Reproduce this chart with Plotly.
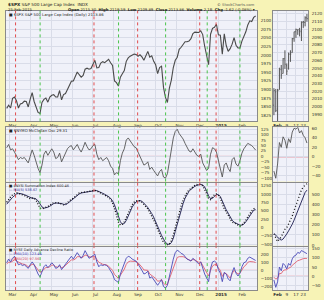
import plotly.graph_objects as go
import pandas as pd

# ---------------- data ----------------
spx_close = [1845, 1854,
             1846, 1874, 1878, 1867, 1846, 1858, 1860, 1866, 1865, 1849, 1872,
             1891, 1865, 1851, 1833, 1830, 1862, 1871, 1875, 1863, 1878,
             1883, 1885, 1878, 1878, 1897, 1870, 1885, 1888, 1900, 1910, 1924,
             1925, 1941, 1951, 1943, 1936, 1941, 1959, 1962, 1959, 1961,
             1973, 1985, 1963, 1964, 1977, 1981, 1978, 1983, 1988, 1978, 1970,
             1925, 1920, 1910, 1936, 1946, 1955, 1982, 1992, 1997, 2000, 2003,
             2002, 1997, 2001, 1995, 1985, 1998, 2011, 1994, 1998, 1982,
             1972, 1946, 1964, 1968, 1906, 1877, 1862, 1904, 1927, 1964, 1985, 1994,
             2017, 2023, 2031, 2039, 2039, 2041, 2048, 2063, 2067, 2067,
             2066, 2071, 2060, 2026, 2002, 1972, 2061, 2078, 2081, 2090, 2059,
             2058, 2003, 2062, 2028, 2011, 2019, 2032, 2051, 2029, 2021,
             2021, 2041, 2055, 2068, 2088, 2100, 2098, 2110, 2114]

nymo = [40, 55,
        30, 35, 20, 0, -15, -5, -10, -5, -20, -30, 0,
        30, 5, -30, -55, -75, -40, 10, 25, 5, 20,
        35, 20, -10, -5, 15, -25, -5, 15, 35, 45, 50,
        30, 45, 55, 35, 20, 40, 65, 45, 30, 35,
        50, 55, 10, -15, -5, -20, -10, -5, -20, -45, -55,
        -85, -75, -80, -20, 15, 35, 75, 85, 70, 55, 45,
        40, 20, 5, -20, -40, -35, -25, -60, -50, -65,
        -75, -90, -70, -60, -95, -100, -80, -20, 40, 85, 115, 125,
        105, 95, 80, 60, 40, 25, 20, 35, 20, 5,
        0, 10, -30, -50, -65, -55, 10, 40, 35, 20, -20,
        -45, -95, -40, -30, -55, -70, -15, -5, -35, -45,
        -20, 15, 35, 45, 60, 55, 50, 40, 29]

nysi = [760, 850,
        920, 980, 1030, 1050, 1030, 1010, 990, 970, 940, 890, 870,
        890, 880, 820, 720, 590, 560, 580, 620, 630, 660,
        720, 750, 740, 730, 740, 700, 680, 700, 760, 800, 850,
        880, 930, 1000, 1040, 1050, 1060, 1090, 1100, 1100, 1100,
        1110, 1120, 1100, 1070, 1040, 1010, 980, 950, 910, 840, 740,
        580, 400, 160, 70, 100, 170, 300, 450, 580, 680, 760,
        800, 810, 800, 760, 690, 610, 560, 450, 350, 240,
        110, -60, -200, -310, -450, -480, -520, -500, -400, -230, 10, 250,
        460, 650, 820, 960, 1060, 1130, 1180, 1230, 1270, 1290,
        1300, 1300, 1260, 1160, 1020, 870, 840, 920, 990, 1010, 980,
        880, 700, 560, 470, 380, 250, 160, 140, 110, 70,
        40, 70, 130, 220, 320, 430, 500, 560, 600]

nysi_ma5 = [700, 780,
            850, 910, 960, 1010, 1030, 1030, 1010, 990, 960, 930, 900,
            880, 880, 860, 800, 700, 620, 580, 590, 610, 640,
            690, 720, 740, 740, 730, 720, 700, 690, 720, 770, 820,
            860, 900, 950, 1010, 1040, 1050, 1070, 1090, 1100, 1100,
            1100, 1110, 1110, 1090, 1060, 1030, 1000, 970, 930, 880, 800,
            680, 520, 320, 170, 100, 120, 210, 350, 490, 610, 700,
            770, 800, 810, 790, 740, 670, 600, 520, 420, 310,
            190, 50, -100, -240, -360, -450, -500, -510, -460, -330, -120, 110,
            330, 530, 720, 880, 1000, 1090, 1150, 1200, 1240, 1270,
            1290, 1300, 1280, 1220, 1100, 950, 870, 880, 940, 990, 990,
            930, 800, 650, 530, 430, 320, 220, 160, 130, 100,
            70, 70, 100, 170, 260, 360, 450, 520, 538]

ad_ema10 = [95, 140,
            105, 150, 175, 115, 70, 80, 60, 70, 45, 25, 70,
            105, 70, 10, -45, -80, -25, 45, 70, 35, 60,
            95, 70, 25, 35, 70, 10, 45, 80, 115, 150, 175,
            140, 175, 220, 185, 150, 185, 245, 200, 150, 165,
            185, 200, 105, 45, 70, 60, 70, 60, 35, -10, -45,
            -115, -130, -150, -45, 25, 70, 150, 175, 165, 140, 130,
            115, 80, 45, 0, -45, -35, -10, -95, -80, -115,
            -140, -185, -150, -115, -200, -220, -185, -70, 45, 140, 220, 250,
            235, 210, 200, 175, 140, 130, 115, 150, 130, 105,
            80, 105, 25, -45, -95, -140, 25, 105, 115, 95, 10,
            -35, -140, -25, -45, -105, -130, -25, 35, -35, -70,
            -35, 45, 95, 105, 150, 165, 150, 135, 123]

ad_ema20 = [80, 100,
            100, 110, 130, 115, 100, 95, 80, 75, 65, 45, 60,
            75, 70, 40, 5, -25, -10, 15, 35, 35, 45,
            65, 65, 45, 40, 55, 35, 40, 60, 80, 105, 130,
            130, 140, 170, 170, 160, 165, 190, 185, 170, 165,
            170, 175, 135, 100, 90, 75, 72, 68, 52, 25, 0,
            -50, -75, -100, -60, -20, 15, 75, 105, 115, 115, 115,
            110, 95, 70, 40, 5, 0, 0, -45, -60, -80,
            -100, -135, -130, -115, -160, -180, -170, -105, -35, 35, 110, 160,
            170, 170, 170, 160, 140, 130, 120, 135, 130, 115,
            100, 105, 60, 10, -30, -70, 0, 55, 70, 70, 30,
            0, -75, -35, -40, -75, -95, -40, 0, -25, -45,
            -35, 10, 45, 65, 100, 110, 110, 105, 97]

zoom_days = ['2015-01-29', '2015-01-30', '2015-02-02', '2015-02-03', '2015-02-04',
             '2015-02-05', '2015-02-06', '2015-02-09', '2015-02-10', '2015-02-11',
             '2015-02-12', '2015-02-13', '2015-02-17', '2015-02-18', '2015-02-19',
             '2015-02-20', '2015-02-23', '2015-02-24', '2015-02-25']
zoom_open = [2002, 2019, 1997, 2022, 2048, 2043, 2062, 2053, 2050, 2068,
             2070, 2088, 2097, 2099, 2098, 2097, 2109, 2109, 2115]
zoom_high = [2024, 2023, 2023, 2050, 2054, 2063, 2073, 2056, 2070, 2073,
             2089, 2097, 2101, 2100, 2102, 2110, 2111, 2117, 2120]
zoom_low = [1989, 1993, 1981, 2022, 2036, 2043, 2049, 2041, 2048, 2058,
            2070, 2084, 2089, 2093, 2091, 2085, 2102, 2104, 2110]
zoom_close = [2021, 1995, 2021, 2050, 2041, 2062, 2055, 2046, 2068, 2068,
              2088, 2097, 2100, 2100, 2098, 2110, 2110, 2115, 2114]
zoom_nymo = [-30, -45, -15, 30, 20, 42, 35, 18, 38, 30, 52, 60, 58, 62, 50, 55, 45, 40, 29]
zoom_nysi = [110, 70, 35, 60, 80, 120, 155, 170, 205, 235, 285, 340, 395, 450, 495, 540, 570, 590, 600]
zoom_nysi_ma5 = [115, 100, 80, 60, 50, 60, 80, 110, 140, 170, 205, 245, 290, 340, 390, 440, 480, 515, 538]
zoom_ad_ema10 = [-20, -60, -30, 50, 30, 70, 60, 40, 70, 60, 95, 110, 115, 130, 125, 140, 135, 130, 123]
zoom_ad_ema20 = [-5, -15, -10, 15, 15, 30, 35, 35, 45, 48, 60, 70, 78, 85, 88, 94, 96, 97, 97]

month_ticks = ['2014-03-01', '2014-04-01', '2014-05-01', '2014-06-01', '2014-07-01', '2014-08-01',
               '2014-09-01', '2014-10-01', '2014-11-01', '2014-12-01', '2015-01-01', '2015-02-01']
month_labels = ['Mar', 'Apr', 'May', 'Jun', 'Jul', 'Aug', 'Sep', 'Oct', 'Nov', 'Dec', '<b>2015</b>', 'Feb']
zoom_ticks = ['2015-02-02', '2015-02-09', '2015-02-17', '2015-02-23']
zoom_labels = ['<b>Feb</b>', '9', '17', '23']

signal_dates = ['2014-03-10', '2014-04-15', '2014-07-03', '2014-08-08', '2014-09-05',
                '2014-10-16', '2014-12-05', '2014-12-16', '2014-12-29', '2015-02-02']
signal_kind = ['sell', 'buy', 'sell', 'buy', 'sell', 'buy', 'sell', 'buy', 'sell', 'buy']

# ---------------- layout helpers ----------------
W, H = 324, 300
def px(x):
    return x / W
def py(y):
    return 1 - y / H

main_dates = pd.date_range('2014-02-25', '2015-02-25', periods=len(spx_close))

YELLOW = '#F7F3B6'
PLOTBG = '#F0F1F9'
GRID = '#D9DCE8'
FONT = 'DejaVu Sans'
TF = dict(family=FONT, size=4.2, color='#333333')

main_x = [px(6), px(257)]
zoom_x = [px(273), px(308)]
rows = {1: (9, 121), 2: (127, 182), 3: (183, 247), 4: (248, 292)}

fig = go.Figure()

def line(x, y, xa, ya, color, width=1, dash=None):
    fig.add_trace(go.Scatter(x=x, y=y, mode='lines', xaxis=xa, yaxis=ya,
                             line=dict(color=color, width=width, dash=dash),
                             hoverinfo='skip', showlegend=False))

# main panels
line(main_dates, spx_close, 'x', 'y', '#4a4a4a', 1.1)
line(main_dates, nymo, 'x2', 'y2', '#555555', 0.9)
line(main_dates, nysi_ma5, 'x3', 'y3', '#1c1c50', 0.9)
line(main_dates, nysi, 'x3', 'y3', '#111111', 1.3, '1px,1.8px')
line(main_dates, ad_ema20, 'x4', 'y4', '#e06070', 0.9)
line(main_dates, ad_ema10, 'x4', 'y4', '#4a4ab8', 0.9)

# zoom panels
fig.add_trace(go.Ohlc(x=zoom_days, open=zoom_open, high=zoom_high, low=zoom_low, close=zoom_close,
                      xaxis='x5', yaxis='y5', increasing_line_color='#555555',
                      decreasing_line_color='#555555', line_width=1, tickwidth=0.4,
                      hoverinfo='skip', showlegend=False))
line(zoom_days, zoom_nymo, 'x6', 'y6', '#555555', 0.9)
line(zoom_days, zoom_nysi_ma5, 'x7', 'y7', '#1c1c50', 0.9)
line(zoom_days, zoom_nysi, 'x7', 'y7', '#111111', 1.3, '1px,2.2px')
line(zoom_days, zoom_ad_ema20, 'x8', 'y8', '#e06070', 0.9)
line(zoom_days, zoom_ad_ema10, 'x8', 'y8', '#4a4ab8', 0.9)

yspec = {
    1: ([1807, 2129], list(range(1825, 2101, 25))),
    2: ([-116, 134], list(range(-100, 126, 25))),
    3: ([-550, 1354], list(range(-500, 1251, 250))),
    4: ([-245, 294], list(range(-200, 201, 100))),
    5: ([1981, 2124], list(range(1990, 2121, 10))),
    6: ([-52, 62], list(range(-40, 61, 20))),
    7: ([-5, 612], list(range(0, 501, 100))),
    8: ([-75, 161], list(range(-50, 151, 50))),
}

lay = {}
for i in range(1, 9):
    r = (i - 1) % 4 + 1
    is_zoom = i > 4
    top, bot = rows[r]
    xkey = 'xaxis' if i == 1 else f'xaxis{i}'
    ykey = 'yaxis' if i == 1 else f'yaxis{i}'
    xname = 'x' if i == 1 else f'x{i}'
    yname = 'y' if i == 1 else f'y{i}'
    show_x = r in (1, 4)
    xa = dict(domain=zoom_x if is_zoom else main_x, anchor=yname, type='date',
              showline=True, linecolor='#8a8a8a', linewidth=0.6, mirror=True,
              showgrid=True, gridcolor=GRID, gridwidth=0.6, zeroline=False,
              ticks='', showticklabels=show_x, tickfont=TF, ticklabelshift=3,
              tickangle=0, fixedrange=True)
    if is_zoom:
        xa.update(range=['2015-01-28 12:00', '2015-02-25 14:00'],
                  tickvals=zoom_ticks, ticktext=zoom_labels,
                  rangebreaks=[dict(bounds=['sat', 'mon']), dict(values=['2015-02-16'])],
                  rangeslider=dict(visible=False), ticklabelshift=0)
    else:
        xa.update(range=['2014-02-24', '2015-02-27'], tickvals=month_ticks, ticktext=month_labels)
    rng, tv = yspec[i]
    ya = dict(domain=[py(bot), py(top)], anchor=xname, side='right', range=rng,
              tickvals=tv, showgrid=True, gridcolor=GRID, gridwidth=0.6, zeroline=False,
              showline=True, linecolor='#8a8a8a', linewidth=0.6, mirror=True,
              ticks='', tickfont=TF, ticklabelstandoff=2, fixedrange=True)
    lay[xkey] = xa
    lay[ykey] = ya

shapes = []
for d, k in zip(signal_dates, signal_kind):
    col = '#e03a3a' if k == 'sell' else '#38c038'
    for r in range(1, 5):
        xr = 'x' if r == 1 else f'x{r}'
        yr = 'y' if r == 1 else f'y{r}'
        shapes.append(dict(type='line', xref=xr, yref=f'{yr} domain', x0=d, x1=d, y0=0, y1=1,
                           line=dict(color=col, width=0.9, dash='dot'), layer='above'))
# zero lines
for xr, yr in (('x2', 'y2'), ('x4', 'y4'), ('x6', 'y6'), ('x8', 'y8')):
    shapes.append(dict(type='line', xref=f'{xr} domain', yref=yr, x0=0, x1=1, y0=0, y1=0,
                       line=dict(color='#e05a6a', width=0.9), layer='below'))

ann = []
def text(x, y, s, color='#222222', size=4.0, anchor='left'):
    ann.append(dict(x=px(x), y=py(y), xref='paper', yref='paper', text=s, showarrow=False,
                    xanchor=anchor, yanchor='middle', font=dict(family=FONT, size=size, color=color)))

text(6, 3, '<b>$SPX</b> S&P 500 Large Cap Index  INDX', size=4.2)
text(6, 7.5, '25-Feb-2015', size=3.8)
text(257, 7.5, '<b>Open</b> 2115.30  <b>High</b> 2119.59  <b>Low</b> 2109.89  <b>Close</b> 2113.86  '
     '<b>Volume</b> 2.1B  <b>Chg</b> -1.62 (-0.08%) ▾', size=3.8, anchor='right')
text(257, 2.5, '© StockCharts.com', size=3.8, color='#555555', anchor='right')
text(7, 12.5, '■ $SPX S&P 500 Large Cap Index (Daily) 2113.86', size=3.8)
text(7, 130.5, '■ $NYMO McClellan Osc 29.31', size=3.8)
text(7, 186, '■ $NYSI Summation Index 600.46', size=3.5)
text(7, 190.8, '— MA(5) 538.67', size=3.5, color='#2a2a90')
text(7, 251, '■ NYSE Daily Advance Decline Ratio', size=3.5)
text(7, 255.6, '— EMA(10) 123.44', size=3.5, color='#3a3ab0')
text(7, 260.2, '— EMA(20) 97.56', size=3.5, color='#d04050')

fig.update_layout(width=W, height=H, margin=dict(l=0, r=0, t=0, b=0),
                  paper_bgcolor=YELLOW, plot_bgcolor=PLOTBG, showlegend=False,
                  shapes=shapes, annotations=ann, **lay)

fig.write_html('out.html')
